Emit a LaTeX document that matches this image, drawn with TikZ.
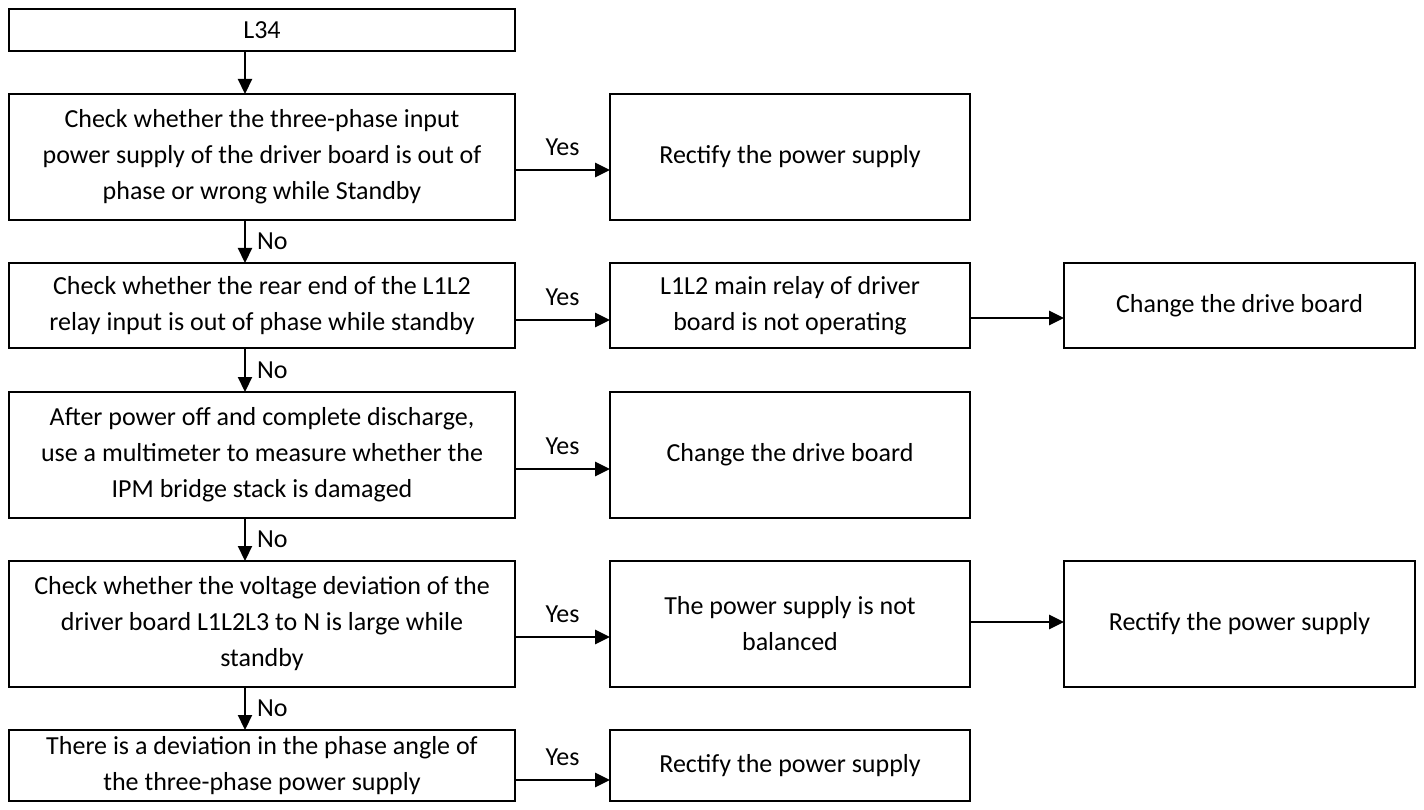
\documentclass[tikz,border=0pt]{standalone}
\usepackage{fontspec}
\setmainfont{Carlito}
\usetikzlibrary{arrows.meta}
\begin{document}
\begin{tikzpicture}[x=1pt,y=-1pt,
  box/.style={draw=black,line width=2pt,inner sep=0pt,outer sep=0pt,align=center,
    font=\fontsize{26}{36}\selectfont},
  lbox/.style={box,minimum width=506pt},
  ybox/.style={box,minimum width=360pt},
  rbox/.style={box,minimum width=351pt},
  arr/.style={line width=2.8pt,-{Triangle[length=15pt,width=14pt]}},
  varr/.style={line width=2.2pt,-{Triangle[length=15pt,width=14pt]}},
  lbl/.style={font=\fontsize{26}{30}\selectfont,inner sep=0pt}]
\useasboundingbox (0,0) rectangle (1424,810);
% left column
\node[lbox,minimum height=42pt] (l34) at (262,30) {L34};
\node[lbox,minimum height=126pt] (b1) at (262,157) {Check whether the three-phase input\\power supply of the driver board is out of\\phase or wrong while Standby};
\node[lbox,minimum height=85pt] (b2) at (262,305.5) {Check whether the rear end of the L1L2\\relay input is out of phase while standby};
\node[lbox,minimum height=126pt] (b3) at (262,455) {After power off and complete discharge,\\use a multimeter to measure whether the\\IPM bridge stack is damaged};
\node[lbox,minimum height=126pt] (b4) at (262,624) {Check whether the voltage deviation of the\\driver board L1L2L3 to N is large while\\standby};
\node[lbox,minimum height=71pt] (b5) at (262,765.5) {There is a deviation in the phase angle of\\the three-phase power supply};
% middle column
\node[ybox,minimum height=126pt] (y1) at (790,157) {Rectify the power supply};
\node[ybox,minimum height=85pt] (y2) at (790,305.5) {L1L2 main relay of driver\\board is not operating};
\node[ybox,minimum height=126pt] (y3) at (790,455) {Change the drive board};
\node[ybox,minimum height=126pt] (y4) at (790,624) {The power supply is not\\balanced};
\node[ybox,minimum height=71pt] (y5) at (790,765.5) {Rectify the power supply};
% right column
\node[rbox,minimum height=85pt] (r2) at (1239.5,305.5) {Change the drive board};
\node[rbox,minimum height=126pt] (r4) at (1239.5,624) {Rectify the power supply};
% vertical arrows
\coordinate (vx) at (245,0);
\draw[varr] (l34.south -| vx) -- (b1.north -| vx);
\draw[varr] (b1.south -| vx) -- (b2.north -| vx);
\draw[varr] (b2.south -| vx) -- (b3.north -| vx);
\draw[varr] (b3.south -| vx) -- (b4.north -| vx);
\draw[varr] (b4.south -| vx) -- (b5.north -| vx);
\node[lbl,anchor=west] (no1) at (257,241.5) {No};
\node[lbl,anchor=west] (no2) at (257,370) {No};
\node[lbl,anchor=west] (no3) at (257,539.5) {No};
\node[lbl,anchor=west] (no4) at (257,708.5) {No};
% horizontal arrows
\coordinate (a1) at (0,170);
\coordinate (a2) at (0,320);
\coordinate (a3) at (0,469);
\coordinate (a4) at (0,637);
\coordinate (a5) at (0,780);
\coordinate (c2) at (0,318);
\coordinate (c4) at (0,622);
\draw[arr] (b1.east |- a1) -- (y1.west |- a1);
\draw[arr] (b2.east |- a2) -- (y2.west |- a2);
\draw[arr] (b3.east |- a3) -- (y3.west |- a3);
\draw[arr] (b4.east |- a4) -- (y4.west |- a4);
\draw[arr] (b5.east |- a5) -- (y5.west |- a5);
\draw[arr] (y2.east |- c2) -- (r2.west |- c2);
\draw[arr] (y4.east |- c4) -- (r4.west |- c4);
\node[lbl] (yes1) at (562.5,147) {Yes};
\node[lbl] (yes2) at (562.5,297) {Yes};
\node[lbl] (yes3) at (562.5,446) {Yes};
\node[lbl] (yes4) at (562.5,614) {Yes};
\node[lbl] (yes5) at (562.5,757) {Yes};
\end{tikzpicture}
\end{document}
